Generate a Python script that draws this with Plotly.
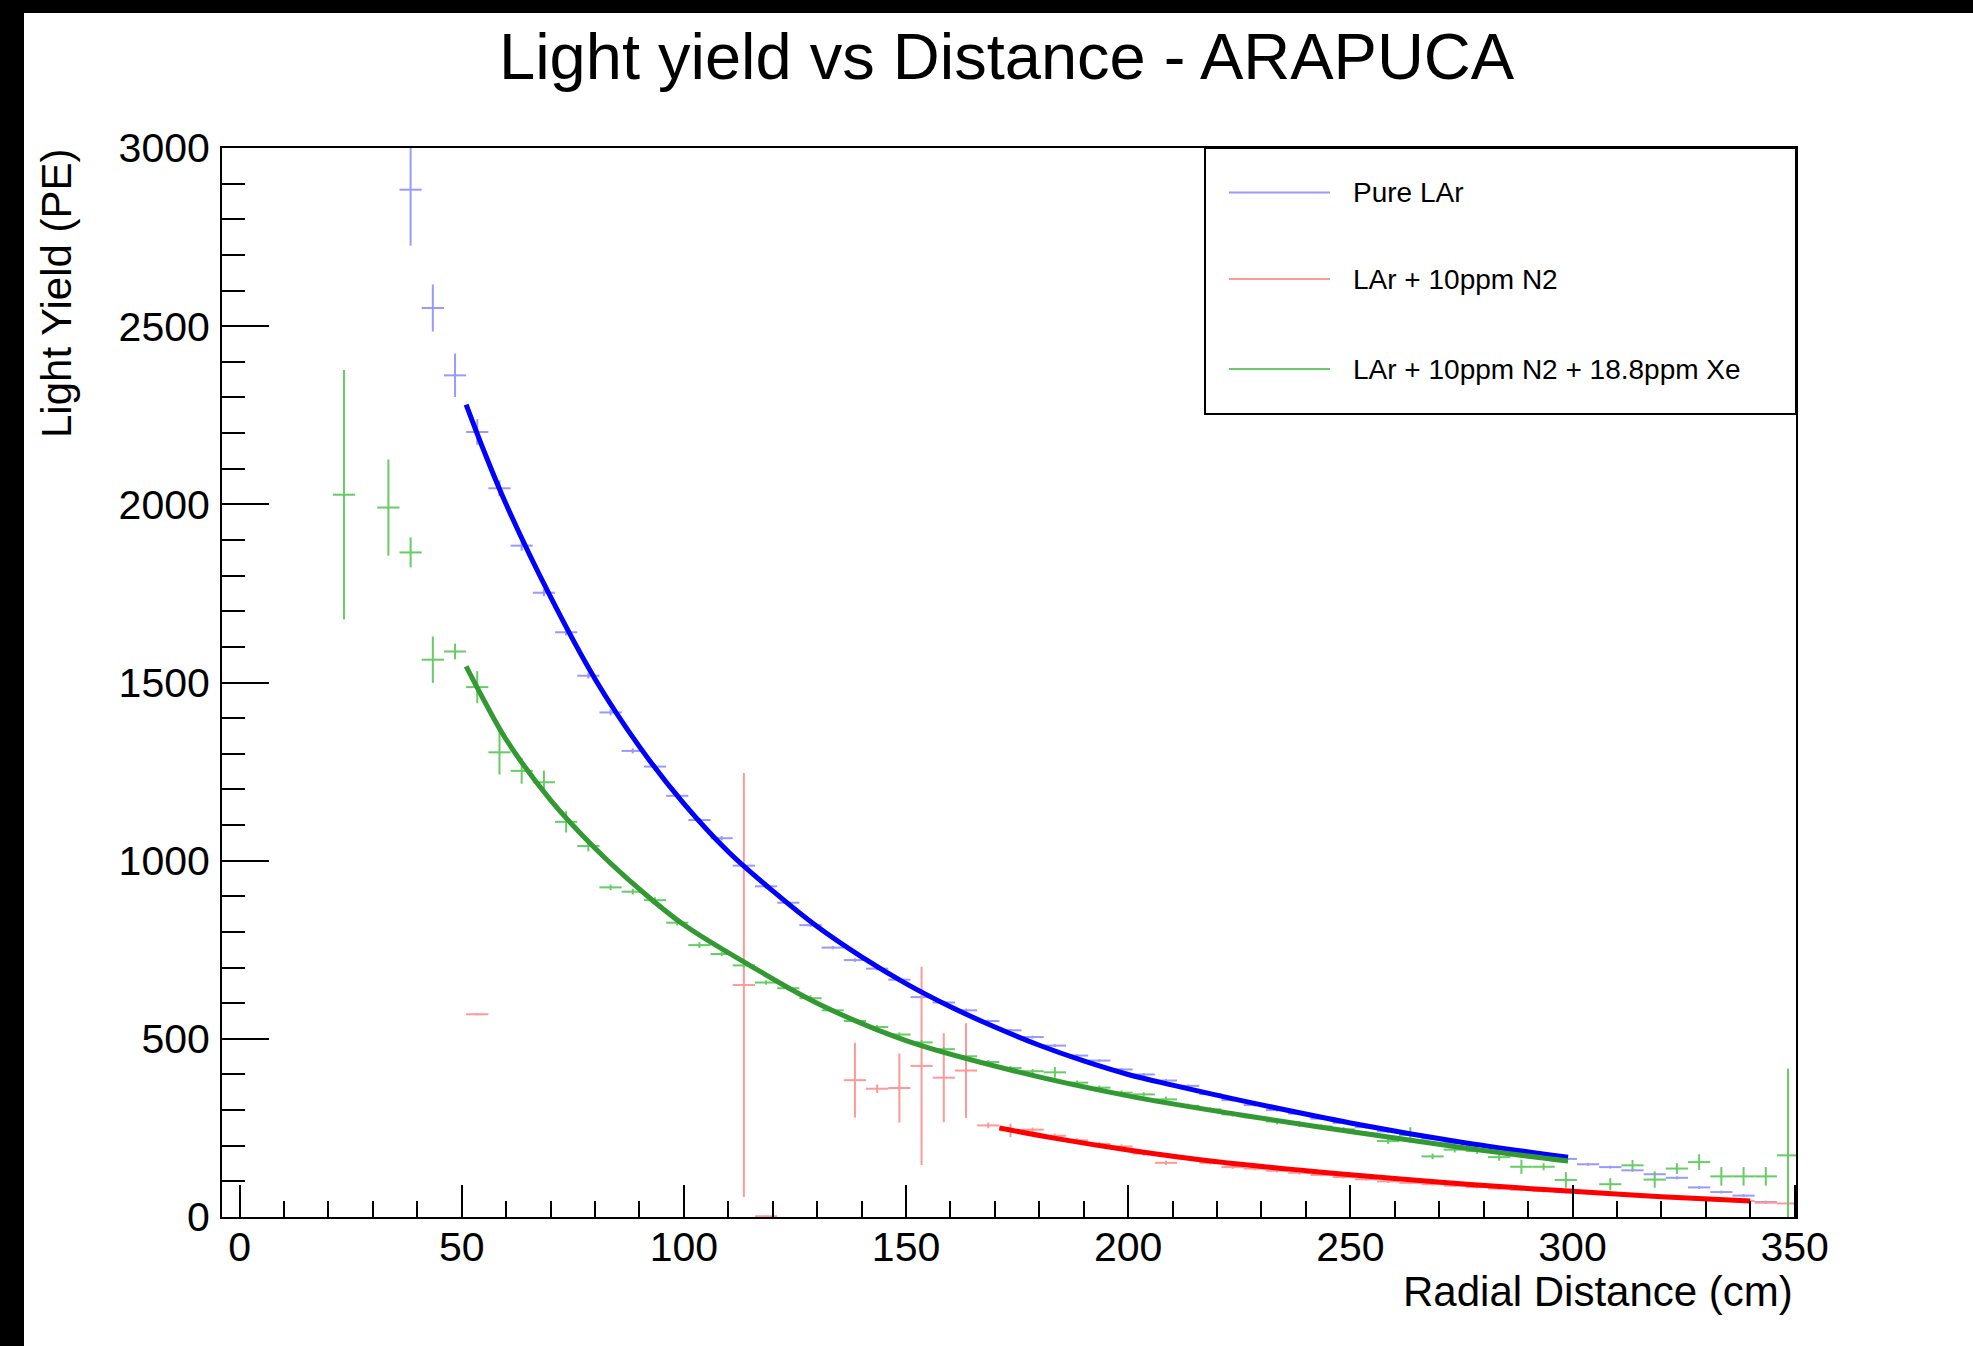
import plotly.graph_objects as go

# ---------------- data ----------------
BIN_HALF_WIDTH = 2.5  # cm, horizontal error bar = half of 5 cm bin

pure_x = [38.5, 43.5, 48.5, 53.5, 58.5, 63.5, 68.5, 73.5, 78.5, 83.5, 88.5, 93.5, 98.5,
          103.5, 108.5, 113.5, 118.5, 123.5, 128.5, 133.5, 138.5, 143.5, 148.5, 153.5,
          158.5, 163.5, 168.5, 173.5, 178.5, 183.5, 188.5, 193.5, 198.5, 203.5, 208.5,
          213.5, 218.5, 223.5, 228.5, 233.5, 238.5, 243.5, 248.5, 253.5, 258.5, 263.5,
          268.5, 273.5, 278.5, 283.5, 288.5, 293.5, 298.5, 303.5, 308.5, 313.5, 318.5,
          323.5, 328.5, 333.5, 338.5, 343.5]
pure_y = [2883, 2551, 2362, 2203, 2045, 1884, 1752, 1641, 1519, 1416, 1308, 1264, 1182,
          1114, 1063, 986, 928, 882, 819, 756, 721, 697, 666, 617,
          602, 580, 550, 524, 505, 481, 453, 439, 414, 400, 383,
          368, 345, 328, 314, 300, 290, 276, 264, 252, 240, 230,
          220, 208, 200, 192, 182, 174, 163, 148, 140, 131, 120,
          110, 83, 70, 60, 42]
pure_err = [157, 66, 61, 36, 22, 14, 10, 9, 8, 8, 7, 7, 7,
            6, 6, 6, 6, 5, 5, 5, 5, 5, 5, 5,
            5, 5, 4, 4, 4, 4, 4, 4, 4, 4, 4,
            4, 4, 4, 4, 4, 4, 4, 4, 4, 4, 4,
            4, 4, 4, 4, 4, 4, 4, 4, 4, 4, 4,
            4, 4, 4, 4, 4]

n2_x = [53.5, 113.5, 118.5, 138.5, 143.5, 148.5, 153.5, 158.5, 163.5, 168.5, 173.5,
        178.5, 183.5, 188.5, 193.5, 198.5, 203.5, 208.5, 213.5, 218.5, 223.5, 228.5,
        233.5, 238.5, 243.5, 248.5, 253.5, 258.5, 263.5, 268.5, 273.5, 278.5, 283.5,
        288.5, 293.5, 298.5, 303.5, 308.5, 313.5, 318.5, 323.5, 328.5, 333.5, 338.5,
        343.5, 348.5]
n2_y = [569, 651, 2, 384, 360, 362, 424, 391, 411, 257, 243,
        245, 228, 215, 205, 198, 178, 152, 165, 152, 140, 136,
        130, 124, 118, 112, 106, 100, 96, 92, 88, 84, 80,
        76, 73, 70, 67, 64, 60, 57, 54, 51, 48, 45,
        40, 38]
n2_err = [3, 595, 2, 105, 12, 97, 278, 125, 133, 8, 19,
          6, 6, 6, 6, 6, 6, 6, 5, 5, 5, 5,
          5, 5, 4, 4, 4, 4, 4, 4, 4, 4, 4,
          4, 4, 4, 4, 4, 3, 3, 3, 3, 3, 3,
          3, 3]

xe_x = [23.5, 33.5, 38.5, 43.5, 48.5, 53.5, 58.5, 63.5, 68.5, 73.5, 78.5, 83.5, 88.5,
        93.5, 98.5, 103.5, 108.5, 113.5, 118.5, 123.5, 128.5, 133.5, 138.5, 143.5,
        148.5, 153.5, 158.5, 163.5, 168.5, 173.5, 178.5, 183.5, 188.5, 193.5, 198.5,
        203.5, 208.5, 213.5, 218.5, 223.5, 228.5, 233.5, 238.5, 243.5, 248.5, 253.5,
        258.5, 263.5, 268.5, 273.5, 278.5, 283.5, 288.5, 293.5, 298.5, 308.5, 313.5,
        318.5, 323.5, 328.5, 333.5, 338.5, 343.5, 348.5]
xe_y = [2027, 1991, 1865, 1564, 1587, 1487, 1304, 1252, 1220, 1109, 1041, 925, 913,
        889, 826, 763, 738, 706, 658, 642, 614, 580, 550, 533,
        512, 490, 471, 451, 435, 418, 409, 406, 377, 363, 349,
        344, 330, 312, 302, 288, 280, 268, 261, 254, 246, 234,
        213, 230, 170, 189, 185, 168, 141, 141, 104, 92, 145,
        105, 136, 154, 114, 114, 114, 173]
xe_err = [350, 135, 42, 65, 22, 45, 62, 36, 33, 30, 15, 8, 8,
          8, 8, 8, 6, 6, 6, 6, 8, 6, 6, 6,
          6, 6, 6, 6, 6, 6, 6, 15, 6, 6, 6,
          6, 8, 6, 6, 6, 6, 8, 8, 6, 6, 6,
          8, 22, 8, 8, 8, 10, 20, 10, 22, 17, 15,
          23, 15, 22, 26, 26, 26, 244]

# fitted curves, read at points along the drawn fit lines
pure_fit_x = [51, 55, 60, 70, 80, 90, 100, 110, 120, 130, 140, 150, 160, 170, 180, 190,
              200, 210, 225, 250, 275, 299]
pure_fit_y = [2280, 2150, 2000, 1740, 1510, 1320, 1160, 1025, 915, 815, 730, 655, 590,
              533, 482, 438, 400, 370, 328, 264, 210, 168]
n2_fit_x = [171, 183, 200, 220, 240, 260, 277, 300, 320, 340]
n2_fit_y = [250, 222, 188, 155, 130, 108, 91, 72, 57, 45]
xe_fit_x = [51, 55, 60, 70, 80, 90, 100, 115, 130, 150, 175, 200, 225, 250, 275, 299]
xe_fit_y = [1545, 1450, 1340, 1170, 1035, 920, 820, 705, 600, 495, 408, 340, 287, 240,
            195, 157]

series_names = ["Pure LAr", "LAr + 10ppm N2", "LAr + 10ppm N2 + 18.8ppm Xe"]

title_text = "Light yield vs Distance - ARAPUCA"
x_title = "Radial Distance (cm)"
y_title = "Light Yield (PE)"

# ---------------- styling / layout ----------------
FONT = "Liberation Sans, Arial, Helvetica, sans-serif"
W, H = 1973, 1346
ML, MR, MT, MB = 222, 177, 148, 129
PW = W - ML - MR
PH = H - MT - MB


def pxx(px):
    return (px - ML) / PW


def pxy(py):
    return (H - MB - py) / PH


point_colors = ["#9999ff", "#ff9999", "#66cc66"]
fit_colors = ["#0000ff", "#ff0000", "#339933"]

fig = go.Figure()

data_sets = [(pure_x, pure_y, pure_err), (n2_x, n2_y, n2_err), (xe_x, xe_y, xe_err)]
for (xs, ys, es), name, col in zip(data_sets, series_names, point_colors):
    fig.add_trace(go.Scatter(
        x=xs, y=ys, mode="markers", name=name, showlegend=False,
        marker=dict(size=2, color="rgba(0,0,0,0)"),
        error_x=dict(type="constant", value=BIN_HALF_WIDTH, thickness=2, width=0, color=col),
        error_y=dict(type="data", array=es, thickness=2, width=0, color=col),
    ))

fits = [(pure_fit_x, pure_fit_y), (n2_fit_x, n2_fit_y), (xe_fit_x, xe_fit_y)]
for (xs, ys), name, col in zip(fits, series_names, fit_colors):
    fig.add_trace(go.Scatter(
        x=xs, y=ys, mode="lines", name=name + " fit", showlegend=False,
        line=dict(color=col, width=5, shape="spline", smoothing=1.0),
    ))

axis_common = dict(
    showline=True, linecolor="black", linewidth=2, mirror=True,
    showgrid=False, zeroline=False, ticks="inside", tickwidth=2, tickcolor="black",
    tickfont=dict(family=FONT, size=41, color="black"),
)

fig.update_xaxes(
    range=[-3.95, 350.3], tickmode="linear", tick0=0, dtick=50, ticklen=32,
    minor=dict(tick0=0, dtick=10, ticks="inside", ticklen=16, tickwidth=2, tickcolor="black"),
    ticklabelstandoff=-7,
    **axis_common,
)
fig.update_yaxes(
    range=[0, 3000], tickmode="linear", tick0=0, dtick=500, ticklen=47,
    minor=dict(tick0=0, dtick=100, ticks="inside", ticklen=23, tickwidth=2, tickcolor="black"),
    ticklabelstandoff=2,
    **axis_common,
)

shapes = []
annotations = []

# black border strips of the original canvas
shapes.append(dict(type="rect", xref="paper", yref="paper",
                   x0=pxx(0), x1=pxx(24), y0=pxy(H), y1=pxy(0),
                   fillcolor="black", line=dict(width=0), layer="above"))
shapes.append(dict(type="rect", xref="paper", yref="paper",
                   x0=pxx(0), x1=pxx(W), y0=pxy(13), y1=pxy(0),
                   fillcolor="black", line=dict(width=0), layer="above"))

# legend box
shapes.append(dict(type="rect", xref="paper", yref="paper",
                   x0=pxx(1205), x1=1.0, y0=pxy(414), y1=1.0,
                   fillcolor="white", line=dict(color="black", width=2), layer="above"))
legend_rows_px = [192.5, 279, 369]
for name, col, ry in zip(series_names, point_colors, legend_rows_px):
    shapes.append(dict(type="line", xref="paper", yref="paper",
                       x0=pxx(1229), x1=pxx(1330), y0=pxy(ry), y1=pxy(ry),
                       line=dict(color=col, width=2), layer="above"))
    annotations.append(dict(text=name, xref="paper", yref="paper", x=pxx(1351), y=pxy(ry),
                            xanchor="left", yanchor="middle", showarrow=False,
                            font=dict(family=FONT, size=28, color="black")))

# title and axis titles
annotations.append(dict(text=title_text, xref="paper", yref="paper", x=pxx(1007), y=pxy(56),
                        xanchor="center", yanchor="middle", showarrow=False,
                        font=dict(family=FONT, size=65, color="black")))
annotations.append(dict(text=x_title, xref="paper", yref="paper", x=pxx(1795), y=pxy(1291),
                        xanchor="right", yanchor="middle", showarrow=False,
                        font=dict(family=FONT, size=42, color="black")))
annotations.append(dict(text=y_title, xref="paper", yref="paper", x=pxx(56), y=pxy(146),
                        xanchor="center", yanchor="top", textangle=-90, showarrow=False,
                        font=dict(family=FONT, size=42, color="black")))

fig.update_layout(
    width=W, height=H,
    margin=dict(l=ML, r=MR, t=MT, b=MB, pad=0),
    paper_bgcolor="white", plot_bgcolor="white",
    showlegend=False,
    shapes=shapes, annotations=annotations,
    font=dict(family=FONT, color="black"),
)

fig.write_html("out.html", config={"displayModeBar": False},
               post_script="document.body.style.margin='0px';")
